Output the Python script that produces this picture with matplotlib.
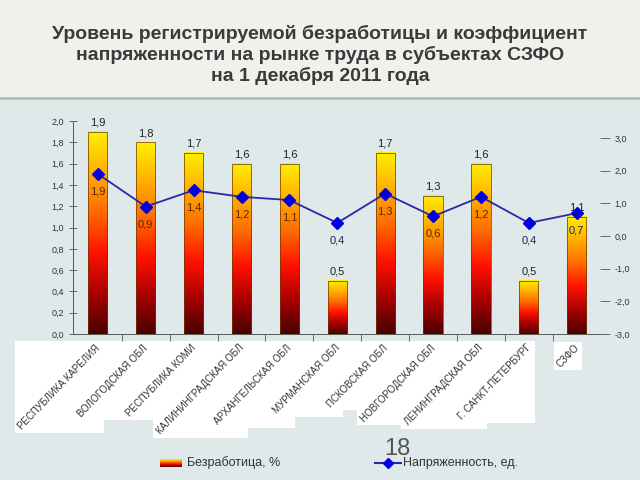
import numpy as np
import matplotlib
matplotlib.use('Agg')
import matplotlib.pyplot as plt
from matplotlib.colors import LinearSegmentedColormap
from matplotlib.patches import Rectangle
from matplotlib.lines import Line2D
from matplotlib.ticker import FuncFormatter

# data
regions = ['РЕСПУБЛИКА КАРЕЛИЯ', 'ВОЛОГОДСКАЯ ОБЛ', 'РЕСПУБЛИКА КОМИ',
           'КАЛИНИНГРАДСКАЯ ОБЛ', 'АРХАНГЕЛЬСКАЯ ОБЛ', 'МУРМАНСКАЯ ОБЛ',
           'ПСКОВСКАЯ ОБЛ', 'НОВГОРОДСКАЯ ОБЛ', 'ЛЕНИНГРАДСКАЯ ОБЛ',
           'Г. САНКТ-ПЕТЕРБУРГ', 'СЗФО']
unemployment = [1.9, 1.8, 1.7, 1.6, 1.6, 0.5, 1.7, 1.3, 1.6, 0.5, 1.1]
tension = [1.9, 0.9, 1.4, 1.2, 1.1, 0.4, 1.3, 0.6, 1.2, 0.4, 0.7]

title = ('Уровень регистрируемой безработицы и коэффициент\n'
         'напряженности на рынке труда в субъектах СЗФО\n'
         'на 1 декабря 2011 года')

plt.rcParams['font.family'] = ['Liberation Sans', 'DejaVu Sans']

def comma(v, pos=None):
    return f'{v:.1f}'.replace('.', ',')

fire = LinearSegmentedColormap.from_list(
    'fire', ['#4a0000', '#a80000', '#ff1200', '#ff6a00', '#ffb000', '#fff000'])
grad = np.linspace(0, 1, 256).reshape(-1, 1)

fig = plt.figure(figsize=(6.4, 4.8), dpi=100)
fig.patch.set_facecolor('#e0e9e9')

# title band with a soft shadow line under it
fig.add_artist(Rectangle((0, 1 - 97 / 480), 1, 97 / 480, transform=fig.transFigure,
                         fc='#eff1ec', ec='none', zorder=-5))
fig.add_artist(Line2D([0, 1], [1 - 98 / 480] * 2, transform=fig.transFigure,
                      color='#b4bcb8', lw=2, zorder=-4))
fig.text(0.5, 1 - 25 / 480, title, ha='center', va='top', fontsize=14,
         fontweight='bold', color='#3a3a3a', linespacing=1.2)

ax = fig.add_axes([0.114, 0.304, 0.823, 0.444])
ax.patch.set_alpha(0)
x = np.arange(len(regions))
w = 0.4

for i, h in enumerate(unemployment):
    ax.imshow(grad, extent=[i - w / 2, i + w / 2, 0, h], cmap=fire,
              aspect='auto', origin='lower', zorder=2)
    ax.add_patch(Rectangle((i - w / 2, 0), w, h, fill=False, ec='#6a3a00',
                           lw=0.5, zorder=3))
    ax.text(i, h + 0.04, comma(h), ha='center', va='bottom', fontsize=8,
            color='#222222', clip_on=False)

ax.set_xlim(-0.52, 10.48)
ax.set_ylim(0, 2.0)
ax.set_yticks(np.arange(0, 2.01, 0.2))
ax.yaxis.set_major_formatter(FuncFormatter(comma))
ax.tick_params(axis='y', labelsize=6.5, labelcolor='#333333', direction='inout',
               length=6, width=0.6, color='#555555')
ax.set_xticks([])
ax.set_xticks(x[:-1] + 0.5, minor=True)
ax.tick_params(axis='x', which='minor', direction='out', length=5, width=0.6,
               color='#555555', labelbottom=False)
for s in ['top', 'right']:
    ax.spines[s].set_visible(False)
for s in ['left', 'bottom']:
    ax.spines[s].set_color('#555555')
    ax.spines[s].set_linewidth(0.7)

ax2 = ax.twinx()
ax2.set_ylim(-3, 3.52)
ax2.set_yticks(range(-3, 4))
ax2.yaxis.set_major_formatter(FuncFormatter(comma))
ax2.tick_params(axis='y', labelsize=6.5, labelcolor='#333333', direction='out',
                length=7, width=0.6, color='#555555')
for s in ['top', 'right', 'left', 'bottom']:
    ax2.spines[s].set_visible(False)

ax2.plot(x, tension, color='#2828a8', lw=1.3, marker='D', ms=6,
         mfc='#0000e0', mec='#0000e0', zorder=5)
lo, hi = ax2.get_ylim()
for i, t in enumerate(tension):
    inside = (t - lo) / (hi - lo) * 2.0 < unemployment[i] - 0.1
    ax2.annotate(comma(t), (i, t), xytext=(0, -9), textcoords='offset points',
                 ha='center', va='top', fontsize=8,
                 color='#5a2800' if inside else '#1a2a55')

labels = []
for i, name in enumerate(regions):
    labels.append(ax.text(i - 0.06, -0.08, name, rotation=46, ha='right', va='top',
                          rotation_mode='anchor', fontsize=7, color='#333333',
                          clip_on=False))

# white boxes behind the region names
fig.canvas.draw()
inv = fig.transFigure.inverted()
for t in labels:
    bb = t.get_window_extent().expanded(1.04, 1.04).transformed(inv)
    fig.add_artist(Rectangle((bb.x0, bb.y0), bb.width, bb.height,
                             transform=fig.transFigure, fc='white', ec='none',
                             zorder=-1))

# legend drawn by hand
ly = 1 - 463 / 480
sw = fig.add_axes([160 / 640, ly - 4 / 480, 22 / 640, 8 / 480])
sw.imshow(grad[::-1][64:], cmap=fire, aspect='auto', origin='upper')
sw.axis('off')
fig.text(187 / 640, ly, 'Безработица, %', fontsize=9, va='center', color='#333333')
fig.add_artist(Line2D([375 / 640, 401 / 640], [ly, ly], transform=fig.transFigure,
                      color='#2828a8', lw=1.5))
fig.add_artist(Line2D([388 / 640], [ly], transform=fig.transFigure, marker='D',
                      ms=5, mfc='#0000e0', mec='#0000e0'))
fig.text(403 / 640, ly, 'Напряженность, ед.', fontsize=9, va='center', color='#333333')
fig.text(397 / 640, 1 - 449 / 480, '18', fontsize=17, color='#555555',
         ha='center', va='center')

fig.savefig('out.png', dpi=100, facecolor=fig.get_facecolor())
